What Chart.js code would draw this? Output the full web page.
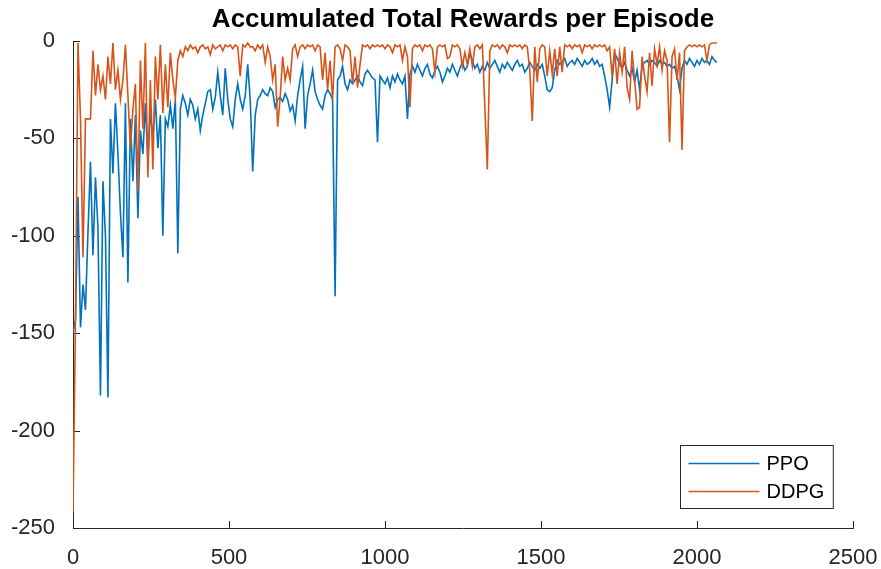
<!DOCTYPE html>
<html lang="en">
<head>
<meta charset="UTF-8">
<title>Accumulated Total Rewards per Episode</title>
<script src="https://cdn.jsdelivr.net/npm/chart.js"></script>
<style>
    body { margin: 0; background: #ffffff; }
    #wrap { width: 881px; height: 569px; }
</style>
</head>
<body>
<div id="wrap"><canvas id="rewardChart" width="881" height="569"></canvas></div>
<script>
// one value every EP_STEP episodes
const EP_STEP = 8;

const ppoRewards = [
    -150, -143, -80, -147, -125, -138, -98, -62, -110, -70,
    -96, -182, -72, -100, -183, -40, -68, -32, -58, -88,
    -111, -32, -124, -40, -72, -38, -91, -46, -58, -32,
    -62, -36, -50, -30, -55, -38, -100, -40, -44, -33,
    -45, -30, -109, -35, -28, -32, -38, -30, -33, -40,
    -35, -46, -38, -32, -26, -25, -35, -29, -16, -28,
    -38, -14, -30, -40, -44, -30, -22, -30, -35, -28,
    -12, -30, -67, -38, -30, -28, -25, -27, -28, -24,
    -26, -34, -30, -29, -31, -27, -30, -36, -33, -41,
    -28, -20, -13, -45, -28, -22, -15, -26, -30, -33,
    -35, -28, -25, -27, -30, -131, -20, -18, -13, -22,
    -25, -20, -22, -20, -18, -21, -23, -17, -15, -17,
    -19, -20, -52, -18, -20, -22, -19, -24, -18, -21,
    -17, -20, -22, -18, -40, -17, -13, -16, -12, -15,
    -18, -14, -12, -17, -19, -15, -13, -16, -21, -18,
    -14, -16, -12, -15, -18, -14, -11, -15, -13, -6,
    -10, -14, -12, -16, -13, -15, -11, -14, -12, -10,
    -13, -16, -12, -14, -11, -13, -15, -12, -10, -13,
    -12, -16, -14, -11, -13, -15, -12, -14, -12, -18,
    -25, -26, -24, -15, -10, -12, -11, -9, -13, -11,
    -10, -12, -9, -11, -13, -10, -12, -11, -9, -12,
    -10, -13, -12, -18, -25, -34, -20, -6, -9, -12,
    -14, -11, -15, -18, -14, -21, -15, -25, -13, -11,
    -10, -12, -10, -11, -13, -10, -12, -11, -13, -12,
    -14, -13, -18, -25, -14, -10, -12, -9, -11, -13,
    -10, -12, -9, -11, -10, -12, -8, -10, -11
];

const ddpgRewards = [
    -242, -142, -1, -40, -111, -40, -40, -40, -5, -28,
    -12, -25, -18, -30, -8, -22, -1, -25, -15, -30,
    -20, -2, -28, -55, -35, -22, -77, -10, -45, -1,
    -70, -20, -66, -8, -30, -2, -37, -12, -34, -6,
    -20, -29, -10, -5, -8, -3, -5, -2, -4, -3,
    -6, -3, -2, -4, -3, -7, -2, -4, -3, -2,
    -5, -2, -3, -2, -4, -2, -3, -18, -2, -3,
    -1, -3, -3, -5, -2, -4, -2, -11, -3, -8,
    -20, -12, -44, -29, -8, -20, -14, -20, -4, -2,
    -8, -3, -2, -4, -2, -3, -2, -5, -2, -3,
    -20, -6, -25, -10, -30, -3, -2, -4, -10, -2,
    -3, -5, -22, -8, -24, -12, -2, -3, -2, -4,
    -2, -3, -2, -3, -2, -4, -2, -3, -6, -2,
    -3, -2, -10, -3, -8, -34, -4, -2, -3, -2,
    -5, -2, -3, -2, -4, -16, -3, -2, -3, -2,
    -9, -8, -2, -3, -2, -4, -13, -6, -12, -4,
    -13, -3, -2, -4, -2, -34, -66, -5, -2, -3,
    -2, -4, -2, -3, -6, -2, -3, -2, -3, -2,
    -4, -2, -3, -15, -41, -3, -21, -4, -2, -3,
    -18, -5, -17, -4, -18, -3, -16, -2, -3, -2,
    -4, -2, -3, -2, -6, -2, -3, -2, -4, -2,
    -3, -2, -3, -2, -5, -3, -18, -4, -22, -6,
    -16, -3, -24, -30, -5, -20, -35, -34, -8, -18,
    -26, -6, -23, -4, -12, -3, -15, -5, -10, -52,
    -8, -4, -20, -6, -56, -5, -3, -2, -3, -2,
    -3, -2, -3, -2, -10, -2, -1, -1, -1
];

const xTicks = [0, 500, 1000, 1500, 2000, 2500];
const yTicks = [-250, -200, -150, -100, -50, 0];
const seriesNames = ["PPO", "DDPG"];
const seriesColors = ["#0072BD", "#D95319"];

const episodes = ppoRewards.map((_, i) => i * EP_STEP);
const axisColor = "#262626";
const fontFamily = "'Liberation Sans', Arial, Helvetica, sans-serif";

function toPoints(values) {
    return values.map((v, i) => ({ x: episodes[i], y: v }));
}

// inward tick marks and the boxed legend in the lower right, MATLAB style
const matlabAxes = {
    id: "matlabAxes",
    beforeDatasetsDraw(chart) {
        const { ctx, chartArea: a, scales: { x, y } } = chart;
        ctx.save();
        ctx.strokeStyle = axisColor;
        ctx.lineWidth = 1;
        ctx.beginPath();
        xTicks.forEach(t => {
            const px = Math.round(x.getPixelForValue(t)) + 0.5;
            ctx.moveTo(px, a.bottom);
            ctx.lineTo(px, a.bottom - 7);
        });
        yTicks.forEach(t => {
            const py = Math.round(y.getPixelForValue(t)) + 0.5;
            ctx.moveTo(a.left, py);
            ctx.lineTo(a.left + 7, py);
        });
        ctx.stroke();
        ctx.restore();
    },
    afterDraw(chart) {
        const { ctx, chartArea: a } = chart;
        ctx.save();
        ctx.font = "20px " + fontFamily;
        const textW = Math.max(...chart.data.datasets.map(d => ctx.measureText(d.label).width));
        const lineLen = 71, padL = 8, gap = 7, padR = 9, rowH = 28;
        const w = padL + lineLen + gap + textW + padR;
        const h = 63;
        const left = Math.round(a.right - 20 - w) + 0.5;
        const top = Math.round(a.bottom - 20 - h) + 0.5;
        ctx.fillStyle = "#ffffff";
        ctx.fillRect(left, top, w, h);
        ctx.strokeStyle = axisColor;
        ctx.lineWidth = 1;
        ctx.strokeRect(left, top, w, h);
        chart.data.datasets.forEach((d, i) => {
            const cy = top + 18 + i * rowH;
            ctx.strokeStyle = d.borderColor;
            ctx.lineWidth = 1.5;
            ctx.beginPath();
            ctx.moveTo(left + padL, cy);
            ctx.lineTo(left + padL + lineLen, cy);
            ctx.stroke();
            ctx.fillStyle = "#000000";
            ctx.textBaseline = "middle";
            ctx.textAlign = "left";
            ctx.fillText(d.label, left + padL + lineLen + gap, cy + 1);
        });
        ctx.restore();
    }
};

new Chart(document.getElementById("rewardChart"), {
    type: "line",
    data: {
        datasets: [
            {
                label: seriesNames[0],
                data: toPoints(ppoRewards),
                borderColor: seriesColors[0],
                borderWidth: 1.6,
                pointRadius: 0,
                tension: 0,
                order: 1
            },
            {
                label: seriesNames[1],
                data: toPoints(ddpgRewards),
                borderColor: seriesColors[1],
                borderWidth: 1.6,
                pointRadius: 0,
                tension: 0,
                order: 0
            }
        ]
    },
    options: {
        responsive: false,
        animation: false,
        layout: { padding: { left: 0, right: 28, top: 0, bottom: 0 } },
        plugins: {
            legend: { display: false },
            tooltip: { enabled: false },
            title: {
                display: true,
                text: "Accumulated Total Rewards per Episode",
                fullSize: false,
                color: "#000000",
                font: { family: fontFamily, size: 26, weight: "bold", lineHeight: 1.2 },
                padding: { top: 4, bottom: 5.8 }
            }
        },
        scales: {
            x: {
                type: "linear",
                min: 0,
                max: 2500,
                grid: { display: false },
                border: { display: true, color: axisColor, width: 1 },
                afterBuildTicks: scale => { scale.ticks = xTicks.map(v => ({ value: v })); },
                afterFit: scale => {
                    scale.height = 41;
                    scale.paddingLeft = 0;
                    scale.paddingRight = 0;
                },
                ticks: {
                    color: axisColor,
                    padding: 9,
                    maxRotation: 0,
                    font: { family: fontFamily, size: 22 },
                    callback: v => String(v)
                }
            },
            y: {
                type: "linear",
                min: -250,
                max: 0,
                grid: { display: false },
                border: { display: true, color: axisColor, width: 1 },
                afterBuildTicks: scale => { scale.ticks = yTicks.map(v => ({ value: v })); },
                afterFit: scale => {
                    scale.width = 73;
                    scale.paddingTop = 0;
                    scale.paddingBottom = 0;
                },
                ticks: {
                    color: axisColor,
                    padding: 10,
                    font: { family: fontFamily, size: 22 },
                    callback: v => String(v)
                }
            }
        }
    },
    plugins: [matlabAxes]
});
</script>
</body>
</html>
